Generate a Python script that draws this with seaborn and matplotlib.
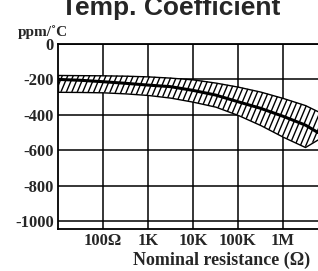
import numpy as np
import pandas as pd
import matplotlib
matplotlib.use("Agg")
import matplotlib.pyplot as plt
from matplotlib.collections import LineCollection
import seaborn as sns

# resistance values (ohm) and tempco band
res = [10, 31.6, 100, 316, 1000, 3162, 10000, 31623, 100000, 316228, 1000000, 3162278, 6000000]
center = [-200, -205, -213, -222, -232, -241, -262, -288, -326, -363, -408, -458, -500]

band_res = [10, 31.6, 100, 316, 1000, 3162, 10000, 31623, 100000, 316228, 1000000, 3100000, 6300000]
upper = [-175, -176, -177, -179, -183, -190, -200, -218, -241, -269, -305, -345, -383]
lower = [-270, -271, -273, -279, -288, -303, -326, -354, -401, -458, -524, -582, -535]

xticks = [100, 1000, 10000, 100000, 1000000]
xticklabels = ["100Ω", "1K", "10K", "100K", "1M"]
yticks = [0, -200, -400, -600, -800, -1000]

sns.set_style("white")
plt.rcParams['font.family'] = ['Liberation Serif', 'DejaVu Serif']

fig = plt.figure(figsize=(3.18, 2.71), dpi=100)
ax = fig.add_axes([58/318, 1-229/271, 1-58/318, (229-44)/271])

band = ax.fill_between(band_res, upper, lower, facecolor="white", edgecolor="black",
                       linewidth=1.0, zorder=3)

# steep hatch lines, clipped to the band outline
starts = np.arange(-0.4, 1.05, 0.021)
segs = [[(s, 0), (s + 0.3, 1)] for s in starts]
hatch = LineCollection(segs, colors="black", linewidths=1.0, transform=ax.transAxes, zorder=3.5)
ax.add_collection(hatch)
hatch.set_clip_path(band.get_paths()[0], band.get_transform())

df = pd.DataFrame({"res": res, "tc": center})
sns.lineplot(data=df, x="res", y="tc", color="black", linewidth=2.2, ax=ax, zorder=4)

ax.set_xscale("log")
ax.set_xlim(10, 10**6.78)
ax.set_ylim(-1045, 0)
ax.set_xticks(xticks)
ax.set_xticklabels(xticklabels)
ax.set_yticks(yticks)
ax.set_yticklabels([str(v) for v in yticks])
ax.minorticks_off()
ax.tick_params(length=0, labelsize=12, pad=3)
for lab in ax.get_xticklabels() + ax.get_yticklabels():
    lab.set_fontweight("bold")
ax.grid(True, color="black", linewidth=1.1, zorder=1)
ax.set_axisbelow(True)
for s in ["left", "bottom", "top"]:
    ax.spines[s].set_color("black")
    ax.spines[s].set_linewidth(1.3)
ax.spines["right"].set_visible(False)
ax.set_xlabel("")
ax.set_ylabel("")

fig.text(222/318, 1-260/271, "Nominal resistance (Ω)", ha="center", va="center",
         fontsize=13, fontweight="bold")
fig.text(18/318, 1-36/271, "ppm/˚C", ha="left", va="baseline",
         fontsize=11, fontweight="bold")
# title sits partly above the top edge, as in the reference
fig.text(171/318, 1-15/271, "Temp. Coefficient", ha="center", va="baseline",
         fontsize=19, fontweight="bold", family=["Liberation Sans", "DejaVu Sans"])

fig.savefig("out.png", dpi=100)
